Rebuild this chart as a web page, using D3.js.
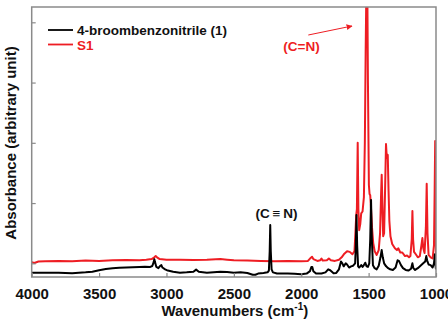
<!DOCTYPE html>
<html><head><meta charset="utf-8">
<script src="https://cdn.jsdelivr.net/npm/d3@7"></script>
<style>html,body{margin:0;padding:0;background:#fff;}svg{display:block;font-family:"Liberation Sans",Arial,sans-serif;}</style>
</head><body>
<svg id="chart" width="448" height="320"></svg>
<script>
// ---- data ----
const seriesNames = ["4-broombenzonitrile (1)", "S1"];
const xTicks = [4000, 3500, 3000, 2500, 2000, 1500, 1000];
const yTicks = [0, 1, 2, 3, 4];

const blackWn = [4000,3900,3800,3700,3600,3550,3500,3450,3400,3350,3300,3250,3200,3160,3120,3105,3095,3090,3085,3075,3060,3045,3038,3030,3010,2990,2950,2900,2850,2800,2780,2760,2700,2650,2600,2550,2500,2450,2400,2360,2340,2320,2280,2250,2240,2234,2230,2226,2220,2210,2180,2100,2050,2000,1960,1935,1925,1918,1910,1890,1850,1820,1800,1785,1760,1740,1720,1705,1695,1685,1670,1660,1645,1630,1615,1600,1595,1590,1585,1578,1570,1555,1545,1535,1525,1515,1505,1495,1488,1482,1476,1468,1455,1440,1425,1412,1403,1395,1385,1370,1355,1340,1320,1300,1285,1275,1260,1245,1225,1205,1185,1175,1168,1155,1135,1115,1095,1080,1072,1066,1055,1040,1025,1015,1008,1003,1000];
const blackAbs = [-0.155,-0.158,-0.155,-0.165,-0.15,-0.14,-0.115,-0.095,-0.08,-0.075,-0.07,-0.065,-0.06,-0.055,-0.06,-0.045,0.02,0.066,0.02,-0.06,-0.08,-0.04,-0.03,-0.07,-0.1,-0.12,-0.14,-0.155,-0.15,-0.14,-0.105,-0.14,-0.155,-0.148,-0.14,-0.145,-0.155,-0.15,-0.16,-0.19,-0.19,-0.17,-0.16,-0.15,-0.12,0.2,0.636,0.2,-0.1,-0.15,-0.17,-0.17,-0.175,-0.18,-0.17,-0.13,-0.06,-0.06,-0.13,-0.17,-0.17,-0.15,-0.1,-0.115,-0.165,-0.16,-0.1,0.03,0.0,-0.05,0.0,-0.02,-0.07,-0.05,-0.04,0.0,0.3,0.8,0.3,-0.05,-0.07,-0.03,-0.06,-0.03,0.01,-0.05,-0.06,0.0,0.4,1.05,0.4,-0.03,-0.08,-0.1,-0.04,0.1,0.22,0.1,0.0,-0.05,-0.08,-0.1,-0.11,-0.07,0.05,0.04,-0.03,-0.08,-0.11,-0.12,-0.09,0.0,-0.08,-0.11,-0.08,-0.04,0.0,0.03,0.12,0.05,-0.02,-0.03,-0.07,0.0,0.15,-0.05,-0.1];

const redWn = [4000,3980,3950,3900,3800,3700,3600,3500,3400,3300,3200,3150,3110,3090,3080,3070,3050,3000,2900,2800,2700,2600,2550,2500,2400,2300,2200,2100,2000,1950,1930,1920,1910,1880,1860,1850,1840,1810,1795,1780,1750,1720,1700,1680,1660,1640,1620,1605,1597,1592,1587,1581,1576,1570,1562,1555,1545,1535,1528,1522,1516,1510,1505,1498,1493,1488,1482,1475,1466,1455,1440,1425,1415,1408,1403,1398,1392,1385,1378,1371,1365,1358,1352,1346,1338,1325,1305,1290,1280,1265,1250,1230,1215,1200,1190,1180,1175,1170,1163,1150,1135,1120,1108,1101,1094,1085,1075,1069,1063,1055,1040,1025,1015,1010,1006,1002,1000];
const redAbs = [0.02,0.005,0.03,0.035,0.04,0.035,0.045,0.04,0.05,0.055,0.05,0.06,0.07,0.1,0.12,0.1,0.07,0.06,0.06,0.055,0.06,0.07,0.06,0.05,0.045,0.04,0.035,0.04,0.035,0.04,0.09,0.11,0.07,0.04,0.05,0.08,0.045,0.05,0.08,0.05,0.04,0.06,0.1,0.16,0.2,0.19,0.15,0.2,0.55,0.8,0.9,2.0,0.9,0.55,0.65,0.83,0.86,1.1,2.0,3.5,4.7,4.7,3.0,1.3,1.15,1.13,0.9,0.6,0.34,0.2,0.14,0.22,0.5,1.1,1.47,1.0,0.45,0.5,1.2,1.98,1.75,1.8,1.2,0.7,0.45,0.32,0.25,0.22,0.25,0.18,0.18,0.12,0.13,0.1,0.12,0.4,0.87,0.4,0.19,0.15,0.1,0.12,0.3,0.42,0.25,0.17,0.6,1.32,0.5,0.14,0.1,0.08,0.3,1.2,2.03,0.8,0.1];

// ---- layout ----
const svg = d3.select("#chart");
const L = 31.7, R = 436, T = 7, B = 277;
const x = d3.scaleLinear().domain([4000, 1000]).range([L, R]);
const y = d3.scaleLinear().domain([-0.227, 4.254]).range([B, T]);
const RED = "#ee1d23";

svg.append("defs").append("clipPath").attr("id", "clip")
  .append("rect").attr("x", L).attr("y", T).attr("width", R - L).attr("height", B - T);

const line = d3.line().x(d => x(d[0])).y(d => y(d[1]));
const g = svg.append("g").attr("clip-path", "url(#clip)");
g.append("path").datum(redWn.map((w, i) => [w, redAbs[i]]))
  .attr("d", line).attr("fill", "none").attr("stroke", RED).attr("stroke-width", 2).attr("stroke-linejoin", "round");
g.append("path").datum(blackWn.map((w, i) => [w, blackAbs[i]]))
  .attr("d", line).attr("fill", "none").attr("stroke", "#000").attr("stroke-width", 2).attr("stroke-linejoin", "round");

// axes (inward ticks, gray frame)
const frameColor = "#8a8a8a";
const xAxis = svg.append("g").attr("transform", `translate(0,${B})`)
  .call(d3.axisBottom(x).tickValues(xTicks).tickSizeInner(-4).tickSizeOuter(0).tickFormat(d3.format("d")));
xAxis.select(".domain").remove();
xAxis.selectAll(".tick line").attr("stroke", frameColor).attr("stroke-width", 1.2);
xAxis.selectAll(".tick text").attr("y", 22).attr("dy", 0)
  .attr("font-size", 15).attr("font-weight", "bold").attr("fill", "#111")
  .attr("font-family", "'Liberation Sans', Arial, sans-serif");

const yAxis = svg.append("g").attr("transform", `translate(${L},0)`)
  .call(d3.axisLeft(y).tickValues(yTicks).tickSizeInner(-4).tickSizeOuter(0).tickFormat(""));
yAxis.select(".domain").remove();
yAxis.selectAll(".tick line").attr("stroke", frameColor).attr("stroke-width", 1.2);

svg.append("rect").attr("x", L).attr("y", T).attr("width", R - L).attr("height", B - T)
  .attr("fill", "none").attr("stroke", frameColor).attr("stroke-width", 1.5);

// axis titles
const xt = svg.append("text").attr("x", (L + R) / 2 + 1).attr("y", 316).attr("text-anchor", "middle")
  .attr("font-size", 15).attr("font-weight", "bold").attr("fill", "#111");
xt.append("tspan").text("Wavenumbers (cm");
xt.append("tspan").attr("font-size", 10).attr("dy", -6).text("-1");
xt.append("tspan").attr("dy", 6).text(")");

svg.append("text").attr("transform", `translate(16,${(T + B) / 2 + 1}) rotate(-90)`)
  .attr("text-anchor", "middle").attr("font-size", 15).attr("font-weight", "bold").attr("fill", "#111")
  .text("Absorbance (arbitrary unit)");

// legend
const legColors = ["#000", RED];
const legY = [30, 44.5];
seriesNames.forEach((n, i) => {
  svg.append("line").attr("x1", 48).attr("x2", 73).attr("y1", legY[i]).attr("y2", legY[i])
    .attr("stroke", legColors[i]).attr("stroke-width", 1.8);
  svg.append("text").attr("x", 77).attr("y", legY[i] + 5).attr("font-size", 13.5).attr("font-weight", "bold")
    .attr("fill", i === 0 ? "#111" : RED).text(n);
});

// annotations
svg.append("text").attr("x", 276.5).attr("y", 217.5).attr("text-anchor", "middle")
  .attr("font-size", 13.5).attr("font-weight", "bold").attr("fill", "#111").text("(C\u2009\u2261\u2009N)");
svg.append("text").attr("x", 301.5).attr("y", 51).attr("text-anchor", "middle")
  .attr("font-size", 13.5).attr("font-weight", "bold").attr("fill", RED).text("(C=N)");

svg.select("defs").append("marker").attr("id", "arr").attr("viewBox", "0 0 10 10")
  .attr("refX", 9).attr("refY", 5).attr("markerWidth", 6).attr("markerHeight", 6)
  .attr("markerUnits", "userSpaceOnUse").attr("orient", "auto")
  .append("path").attr("d", "M0,0 L10,5 L0,10 z").attr("fill", RED);
svg.append("line").attr("x1", 308.3).attr("y1", 35).attr("x2", 352).attr("y2", 26)
  .attr("stroke", RED).attr("stroke-width", 1).attr("marker-end", "url(#arr)");
</script>
</body></html>
